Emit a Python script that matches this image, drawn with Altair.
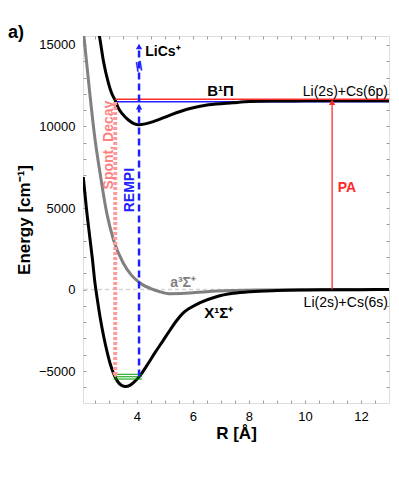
import altair as alt
import pandas as pd

# ---------------- data ----------------
# X1Sigma+ ground state (black)
R_X = [2.09, 2.20, 2.33, 2.42, 2.50, 2.60, 2.70, 2.82, 2.95, 3.05, 3.17, 3.30, 3.45, 3.60, 3.75,
       3.90, 4.05, 4.20, 4.40, 4.65, 4.95, 5.20, 5.41, 5.65, 5.90, 6.24, 6.84, 7.44, 8.04, 9.0,
       10.0, 11.0, 12.0, 13.0]
E_X = [6900, 5000, 3100, 1800, 500, -700, -1800, -2900, -3900, -4550, -5150, -5600, -5870, -5950, -5880,
       -5680, -5420, -5080, -4550, -3870, -3100, -2450, -1930, -1450, -1130, -820, -440, -235, -130, -60,
       -30, -15, -8, -4]
# a3Sigma+ triplet state (gray)
R_A = [2.09, 2.30, 2.51, 2.69, 2.93, 3.17, 3.52, 3.80, 4.00, 4.20, 4.50, 4.80, 5.20, 5.60, 6.00,
       6.50, 7.50, 8.50, 10.0, 13.0]
E_A = [15900, 12400, 9200, 7130, 4670, 3040, 1610, 900, 560, 300, 60, -120, -260, -250, -200,
       -130, -60, -30, -10, 0]
# B1Pi excited state (black)
R_B = [2.62, 2.69, 2.81, 2.99, 3.10, 3.23, 3.35, 3.47, 3.70, 3.90, 4.06, 4.30, 4.59, 5.19, 5.90,
       6.56, 7.44, 8.04, 9.0, 10.0, 11.0, 13.0]
E_B = [16000, 15300, 14000, 12650, 12050, 11600, 11100, 10800, 10400, 10180, 10110, 10160, 10300, 10700, 11100,
       11330, 11460, 11530, 11560, 11575, 11580, 11580]

# horizontal laser levels
H_NAME = ["PA level", "REMPI level"]
H_R1 = [3.23, 3.23]
H_R2 = [13.0, 13.0]
H_E = [11670, 11520]
H_COLOR = ["#ff2a2a", "#2020ff"]

# vibrational levels (green)
V_R1 = [3.17, 3.17, 3.17]
V_R2 = [4.18, 4.18, 4.18]
V_E = [-5200, -5350, -5490]

# vertical transitions
REMPI_R, REMPI_E1, REMPI_E2 = [4.08], [-5330], [14900]
SPONT_R, SPONT_E1, SPONT_E2 = [3.23], [-5250], [11600]
PA_R, PA_E1, PA_E2 = [10.97], [0], [11500]

# arrow heads
ARR_R = [4.08, 4.08, 10.97]
ARR_E = [11215, 14900, 11480]
ARR_C = ["#2020ff", "#2020ff", "#ff2a2a"]

# tick values
X_TICKS = [2.5, 3.0, 3.5, 4.0, 4.5, 5.0, 5.5, 6.0, 6.5, 7.0, 7.5, 8.0, 8.5, 9.0, 9.5, 10.0,
           10.5, 11.0, 11.5, 12.0, 12.5]
Y_TICKS = [-6000, -5000, -4000, -3000, -2000, -1000, 0, 1000, 2000, 3000, 4000, 5000, 6000, 7000,
           8000, 9000, 10000, 11000, 12000, 13000, 14000, 15000]

FONT = "Liberation Sans"
xs = alt.Scale(domain=[2.08, 13.0], nice=False, zero=False)
ys = alt.Scale(domain=[-6960, 15550], nice=False, zero=False)


def X(field="R", axis=None):
    return alt.X(f"{field}:Q", scale=xs, axis=axis, title=None)


def Y(field="E", axis=None):
    return alt.Y(f"{field}:Q", scale=ys, axis=axis, title=None)


common_ax = dict(grid=False, domain=False, tickSize=3, offset=-3, tickColor="#9a9a9a",
                 labelFont=FONT, labelFontSize=13, labelColor="black", labelOverlap=False,
                 titleFont=FONT, titleFontSize=17, titleFontWeight="bold", titleColor="black")

x_axis = alt.Axis(orient="bottom", values=X_TICKS, format="~g",
                  labelExpr="datum.value % 2 == 0 ? datum.label : ''",
                  labelPadding=7, title="R [Å]", titlePadding=2, **common_ax)
y_axis = alt.Axis(orient="left", values=Y_TICKS, format="d",
                  labelExpr="datum.value % 5000 == 0 ? datum.label : ''",
                  labelPadding=8, title="Energy [cm⁻¹]", titlePadding=5, **common_ax)
x_axis_top = alt.Axis(orient="top", values=X_TICKS, labels=False, title=None, **common_ax)
y_axis_right = alt.Axis(orient="right", values=Y_TICKS, labels=False, title=None, **common_ax)

dX = pd.DataFrame({"R": R_X, "E": E_X})
dA = pd.DataFrame({"R": R_A, "E": E_A})
dB = pd.DataFrame({"R": R_B, "E": E_B})

zero_line = alt.Chart(pd.DataFrame({"E": [0]})).mark_rule(
    color="#d4d4d4", strokeWidth=1.5, strokeDash=[4, 3]).encode(y=Y())

curve_a = alt.Chart(dA).mark_line(color="#808080", strokeWidth=3, clip=True,
                                  interpolate="monotone").encode(
    x=X(axis=x_axis_top), y=Y(axis=y_axis_right))
curve_x = alt.Chart(dX).mark_line(color="black", strokeWidth=3, clip=True,
                                  interpolate="monotone").encode(
    x=X(axis=x_axis), y=Y(axis=y_axis))

dH = pd.DataFrame({"name": H_NAME, "R": H_R1, "R2": H_R2, "E": H_E, "c": H_COLOR})
blue_level = alt.Chart(dH[dH.name == "REMPI level"]).mark_rule(strokeWidth=1.5, clip=True).encode(
    x=X(), x2="R2:Q", y=Y(), color=alt.Color("c:N", scale=None))
curve_b = alt.Chart(dB).mark_line(color="black", strokeWidth=3, clip=True,
                                  interpolate="monotone").encode(x=X(), y=Y())
red_level = alt.Chart(dH[dH.name == "PA level"]).mark_rule(strokeWidth=1.5, clip=True).encode(
    x=X(), x2="R2:Q", y=Y(), color=alt.Color("c:N", scale=None))

green = alt.Chart(pd.DataFrame({"R": V_R1, "R2": V_R2, "E": V_E})).mark_rule(
    color="#00a000", strokeWidth=1).encode(x=X(), x2="R2:Q", y=Y())

spont = alt.Chart(pd.DataFrame({"R": SPONT_R, "E": SPONT_E1, "E2": SPONT_E2})).mark_rule(
    color="#ff9a9a", strokeWidth=4, strokeDash=[3, 2]).encode(x=X(), y=Y(), y2="E2:Q")
spont_head = alt.Chart(pd.DataFrame({"R": SPONT_R, "E": SPONT_E1})).mark_point(
    shape="triangle-down", filled=True, color="#ff9a9a", size=40, opacity=1).encode(x=X(), y=Y())

rempi = alt.Chart(pd.DataFrame({"R": REMPI_R, "E": REMPI_E1, "E2": REMPI_E2})).mark_rule(
    color="#2020ff", strokeWidth=2.5, strokeDash=[7, 4]).encode(x=X(), y=Y(), y2="E2:Q")
pa = alt.Chart(pd.DataFrame({"R": PA_R, "E": PA_E1, "E2": PA_E2})).mark_rule(
    color="#ff2a2a", strokeWidth=1.3).encode(x=X(), y=Y(), y2="E2:Q")
heads = alt.Chart(pd.DataFrame({"R": ARR_R, "E": ARR_E, "c": ARR_C})).mark_point(
    shape="triangle-up", filled=True, size=40, opacity=1).encode(
    x=X(), y=Y(), color=alt.Color("c:N", scale=None))
brk = alt.Chart(pd.DataFrame({"R": [4.08], "E": [13670], "t": ["//"]})).mark_text(
    font=FONT, fontSize=13, fontWeight="bold", color="#2020ff", angle=340).encode(
    x=X(), y=Y(), text="t:N")


def label(text, r, e, **kw):
    base = dict(font=FONT, fontSize=14, fontWeight="bold", color="black", align="left",
                baseline="middle")
    base.update(kw)
    return alt.Chart(pd.DataFrame({"R": [r], "E": [e], "t": [text]})).mark_text(**base).encode(
        x=X(), y=Y(), text="t:N")


labels = [
    label("LiCs⁺", 4.3, 14580),
    label("B¹Π", 6.51, 11700, fontSize=15, baseline="bottom"),
    label("Li(2s)+Cs(6p)", 13.0, 11700, fontWeight="normal", align="right", baseline="bottom", dx=-1),
    label("Li(2s)+Cs(6s)", 13.0, -830, fontWeight="normal", align="right", dx=-1),
    label("a³Σ⁺", 5.19, 400, color="#808080"),
    label("X¹Σ⁺", 6.41, -1440, fontSize=15),
    label("PA", 11.17, 6230, color="#ff2a2a"),
    label("REMPI", 3.74, 6100, color="#2020ff", angle=270, align="center"),
    label("Spont. Decay", 3.02, 8860, color="#ff8080", angle=270, align="center"),
]

panel = alt.Chart(pd.DataFrame({"t": ["a)"]})).mark_text(
    font=FONT, fontSize=18, fontWeight="bold", align="left", baseline="middle").encode(
    x=alt.value(-75), y=alt.value(-3), text="t:N")

chart = alt.layer(
    zero_line, curve_a, curve_x, blue_level, curve_b, red_level, green, spont, spont_head,
    pa, rempi, heads, brk, *labels, panel
).resolve_axis(x="independent", y="independent").properties(
    width=306, height=367,
    autosize=alt.AutoSizeParams(type="none"),
    padding={"left": 75, "top": 28, "right": 2, "bottom": 60},
).configure_view(stroke="#a6a6a6", strokeWidth=1).configure(font=FONT)

chart.save("out.html", embed_options={"renderer": "svg", "actions": False})
